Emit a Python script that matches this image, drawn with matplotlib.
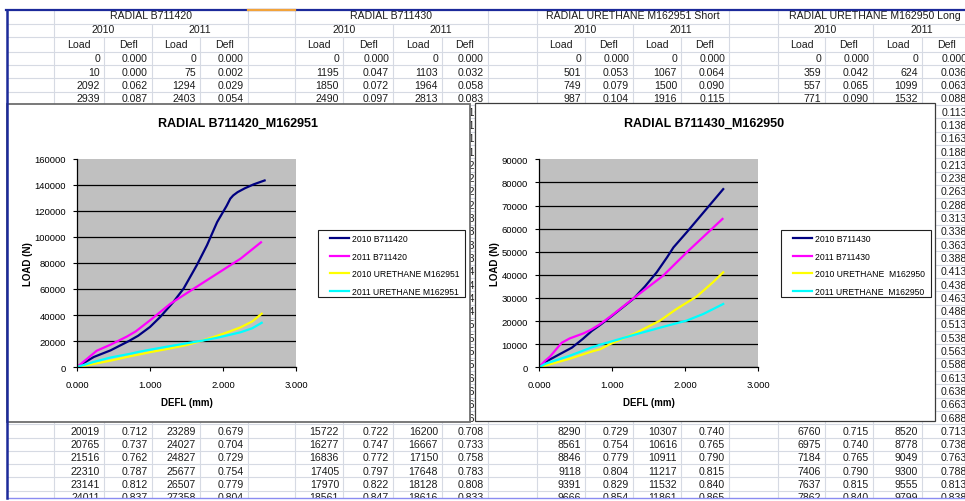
import matplotlib
matplotlib.use("Agg")
import matplotlib.pyplot as plt
from matplotlib.patches import Rectangle
from matplotlib.ticker import FuncFormatter

plt.rcParams['font.family'] = ['Liberation Sans', 'DejaVu Sans']

# ---------------- worksheet contents ----------------
group_titles = ["RADIAL B711420", "RADIAL B711430",
                "RADIAL URETHANE M162951 Short", "RADIAL URETHANE M162950 Long"]
year_labels = ["2010", "2011"]
field_labels = ["Load", "Defl"]

# rows 0-3: [Load 2010, Defl 2010, Load 2011, Defl 2011]
b711420_head = [[0, 0.000, 0, 0.000], [10, 0.000, 75, 0.002],
                [2092, 0.062, 1294, 0.029], [2939, 0.087, 2403, 0.054]]
b711430_head = [[0, 0.000, 0, 0.000], [1195, 0.047, 1103, 0.032],
                [1850, 0.072, 1964, 0.058], [2490, 0.097, 2813, 0.083]]
m162951_head = [[0, 0.000, 0, 0.000], [501, 0.053, 1067, 0.064],
                [749, 0.079, 1500, 0.090], [987, 0.104, 1916, 0.115]]
m162950_head = [[0, 0.000, 0, 0.000], [359, 0.042, 624, 0.036],
                [557, 0.065, 1099, 0.063], [771, 0.090, 1532, 0.088]]

# rows 28-33
b711420_tail = [[20019, 0.712, 23289, 0.679], [20765, 0.737, 24027, 0.704],
                [21516, 0.762, 24827, 0.729], [22310, 0.787, 25677, 0.754],
                [23141, 0.812, 26507, 0.779], [24011, 0.837, 27358, 0.804]]
b711430_tail = [[15722, 0.722, 16200, 0.708], [16277, 0.747, 16667, 0.733],
                [16836, 0.772, 17150, 0.758], [17405, 0.797, 17648, 0.783],
                [17970, 0.822, 18128, 0.808], [18561, 0.847, 18616, 0.833]]
m162951_tail = [[8290, 0.729, 10307, 0.740], [8561, 0.754, 10616, 0.765],
                [8846, 0.779, 10911, 0.790], [9118, 0.804, 11217, 0.815],
                [9391, 0.829, 11532, 0.840], [9666, 0.854, 11861, 0.865]]
m162950_tail = [[6760, 0.715, 8520, 0.713], [6975, 0.740, 8778, 0.738],
                [7184, 0.765, 9049, 0.763], [7406, 0.790, 9300, 0.788],
                [7637, 0.815, 9555, 0.813], [7862, 0.840, 9799, 0.838]]

# rows 4-27 of the 2011 Defl columns that peek out beside the charts
b711430_defl_2011_mid = [0.108, 0.133, 0.158, 0.183, 0.208, 0.233, 0.258, 0.283,
                         0.308, 0.333, 0.358, 0.383, 0.408, 0.433, 0.458, 0.483,
                         0.508, 0.533, 0.558, 0.583, 0.608, 0.633, 0.658, 0.683]
m162950_defl_2011_mid = [0.113, 0.138, 0.163, 0.188, 0.213, 0.238, 0.263, 0.288,
                         0.313, 0.338, 0.363, 0.388, 0.413, 0.438, 0.463, 0.488,
                         0.513, 0.538, 0.563, 0.588, 0.613, 0.638, 0.663, 0.688]

# ---------------- chart series ----------------
# chart 1: RADIAL B711420_M162951
defl_2010_b711420 = [0.000, 0.000, 0.062, 0.087, 0.23, 0.46, 0.712, 0.837, 1.00, 1.14,
                     1.32, 1.46, 1.64, 1.78, 1.92, 2.05, 2.10, 2.14, 2.20, 2.30, 2.42, 2.57]
load_2010_b711420 = [0, 10, 2092, 2939, 7700, 12800, 20019, 24011, 30800, 38500,
                     50000, 60300, 78200, 93600, 111500, 124000, 129500, 132000, 134500,
                     137500, 140500, 143500]
defl_2011_b711420 = [0.000, 0.002, 0.029, 0.054, 0.14, 0.27, 0.46, 0.679, 0.804, 1.00,
                     1.28, 1.60, 1.92, 2.24, 2.52]
load_2011_b711420 = [0, 75, 1294, 2403, 6400, 12500, 17200, 23289, 27358, 35900,
                     48700, 60300, 71800, 83300, 95900]
defl_2010_m162951 = [0.000, 0.053, 0.079, 0.104, 0.46, 0.729, 0.854, 1.00, 1.25, 1.51,
                     1.71, 1.92, 2.10, 2.24, 2.40, 2.53]
load_2010_m162951 = [0, 501, 749, 987, 4900, 8290, 9666, 11400, 14000, 17000,
                     20200, 24000, 27500, 30500, 35000, 41000]
defl_2011_m162951 = [0.000, 0.064, 0.090, 0.115, 0.23, 0.46, 0.740, 0.865, 1.00, 1.30,
                     1.60, 1.71, 1.92, 2.24, 2.40, 2.53]
load_2011_m162951 = [0, 1067, 1500, 1916, 3900, 7300, 10307, 11861, 13300, 16300,
                     19200, 20200, 22500, 26700, 29800, 34000]

# chart 2: RADIAL B711430_M162950
defl_2010_b711430 = [0.000, 0.047, 0.072, 0.097, 0.29, 0.45, 0.60, 0.722, 0.847, 1.00,
                     1.29, 1.45, 1.61, 1.75, 1.84, 2.02, 2.25, 2.52]
load_2010_b711430 = [0, 1195, 1850, 2490, 5800, 8500, 12300, 15722, 18561, 22300,
                     29600, 35000, 41100, 47500, 51900, 58400, 67000, 77100]
defl_2011_b711430 = [0.000, 0.032, 0.058, 0.083, 0.15, 0.31, 0.42, 0.61, 0.708, 0.833,
                     0.99, 1.34, 1.70, 2.02, 2.29, 2.51]
load_2011_b711430 = [0, 1103, 1964, 2813, 4600, 10600, 12500, 14700, 16200, 18616,
                     22300, 31000, 39700, 49700, 57700, 64200]
defl_2010_m162950 = [0.000, 0.042, 0.065, 0.090, 0.42, 0.715, 0.840, 0.97, 1.34, 1.655,
                     1.88, 2.16, 2.38, 2.52]
load_2010_m162950 = [0, 359, 557, 771, 3700, 6760, 7862, 10000, 15100, 20200,
                     25200, 30700, 36800, 41100]
defl_2011_m162950 = [0.000, 0.036, 0.063, 0.088, 0.42, 0.713, 0.838, 0.97, 1.34, 1.79,
                     2.02, 2.25, 2.52]
load_2011_m162950 = [0, 624, 1099, 1532, 5000, 8520, 9799, 11000, 14400, 18300,
                     20200, 23100, 27400]

# ---------------- figure / worksheet layer (pixel coordinates) ----------------
W, H = 965, 502
fig = plt.figure(figsize=(W / 100, H / 100), dpi=100)
sheet = fig.add_axes([0, 0, 1, 1])
sheet.set_xlim(0, W)
sheet.set_ylim(H, 0)
sheet.set_axis_off()

col_edges = [7, 54, 104, 152, 200, 248, 295, 343, 393, 442, 488, 537, 585, 633,
             681, 729, 778, 825, 873, 922, 971]
group_first_col = [1, 6, 11, 16]
row_h = 13.3
row0_y = 59.5


def row_y(k):
    return row0_y + row_h * k


grid_c = '#d6dae3'
text_c = '#1c1c1c'
fs = 7.6

# horizontal cell borders
h_lines = [24.5, 38.0] + [row_y(k) - row_h / 2 for k in range(0, 36)]
sheet.hlines(h_lines, 7, W, color=grid_c, lw=0.8, zorder=1)

# vertical cell borders (merged header cells have fewer)
title_vx = [54, 248, 295, 488, 537, 729, 778]
year_vx = [54, 152, 248, 295, 393, 488, 537, 633, 729, 778, 873]
sheet.vlines(title_vx, 10.5, 24.5, color=grid_c, lw=0.8, zorder=1)
sheet.vlines(year_vx, 24.5, 38.0, color=grid_c, lw=0.8, zorder=1)
sheet.vlines(col_edges[1:], 38.0, H, color=grid_c, lw=0.8, zorder=1)

heads = [b711420_head, b711430_head, m162951_head, m162950_head]
tails = [b711420_tail, b711430_tail, m162951_tail, m162950_tail]


def cell_text(col, k, value, is_defl, inset=4):
    s = f"{value:.3f}" if is_defl else f"{value}"
    sheet.text(col_edges[col + 1] - inset, row_y(k), s, ha='right', va='center',
               fontsize=fs, color=text_c, zorder=3)


for gi, title in enumerate(group_titles):
    c0 = group_first_col[gi]
    sheet.text((col_edges[c0] + col_edges[c0 + 4]) / 2, 16.0, title, ha='center',
               va='center', fontsize=fs, color=text_c, zorder=3)
    for yi, yr in enumerate(year_labels):
        sheet.text((col_edges[c0 + 2 * yi] + col_edges[c0 + 2 * yi + 2]) / 2, 30.0, yr,
                   ha='center', va='center', fontsize=fs, color=text_c, zorder=3)
    for fi in range(4):
        sheet.text((col_edges[c0 + fi] + col_edges[c0 + fi + 1]) / 2, 44.5,
                   field_labels[fi % 2], ha='center', va='center', fontsize=fs,
                   color=text_c, zorder=3)
    for k, row in enumerate(heads[gi]):
        for j, v in enumerate(row):
            cell_text(c0 + j, k, v, j % 2 == 1)
    for i, row in enumerate(tails[gi]):
        for j, v in enumerate(row):
            cell_text(c0 + j, 28 + i, v, j % 2 == 1)

for i, v in enumerate(b711430_defl_2011_mid):
    cell_text(group_first_col[1] + 3, 4 + i, v, True, inset=1)
for i, v in enumerate(m162950_defl_2011_mid):
    cell_text(group_first_col[3] + 3, 4 + i, v, True)

# embedded chart frames
sheet.add_patch(Rectangle((7, 105), 463, 318, fc='white', ec='#6e6e6e', lw=1.3, zorder=5))
sheet.add_patch(Rectangle((475, 104), 460, 318, fc='white', ec='#3c3c3c', lw=0.9, zorder=5))

# legend boxes
sheet.add_patch(Rectangle((318, 231), 147, 67, fc='white', ec='#202020', lw=0.8, zorder=6))
sheet.add_patch(Rectangle((781, 231), 150, 67, fc='white', ec='#202020', lw=0.8, zorder=6))

# window edges
sheet.add_patch(Rectangle((0, 499.5), W, 3, fc='white', ec='none', zorder=9))
sheet.plot([7, W], [499, 499], color='#8a8cf2', lw=1.0, zorder=10)
sheet.plot([6, W], [10.5, 10.5], color='#1c2a9a', lw=1.6, zorder=10)
sheet.plot([248, 295], [10.5, 10.5], color='#f2a33a', lw=1.6, zorder=11)
sheet.plot([7, 7], [10.5, 499], color='#1c2a9a', lw=1.8, zorder=10)

# ---------------- charts ----------------
series_colors = ['#000080', '#ff00ff', '#ffff00', '#00ffff']


def px_axes(x0, x1, ytop, ybot):
    return fig.add_axes([x0 / W, (H - ybot) / H, (x1 - x0) / W, (ybot - ytop) / H])


def style_chart(ax, ymax, ystep):
    ax.set_facecolor('#c0c0c0')
    ax.set_xlim(0, 3)
    ax.set_ylim(0, ymax)
    ax.set_xticks([0, 1, 2, 3])
    ax.set_yticks(list(range(0, ymax + 1, ystep)))
    ax.xaxis.set_major_formatter(FuncFormatter(lambda v, p: f"{v:.3f}"))
    ax.yaxis.set_major_formatter(FuncFormatter(lambda v, p: f"{int(round(v))}"))
    ax.yaxis.grid(True, color='black', lw=0.9)
    ax.set_axisbelow(True)
    ax.get_ygridlines()[-1].set_visible(False)
    for s in ('top', 'right'):
        ax.spines[s].set_visible(False)
    for s in ('left', 'bottom'):
        ax.spines[s].set_color('black')
        ax.spines[s].set_linewidth(0.9)
    ax.tick_params(direction='out', length=3, width=0.8, labelsize=6.8,
                   colors='black')
    ax.tick_params(axis='y', pad=5)
    ax.tick_params(axis='x', pad=6)
    ax.set_xlabel('DEFL (mm)', fontsize=7, fontweight='bold', labelpad=6)
    ax.set_ylabel('LOAD (N)', fontsize=7, fontweight='bold', labelpad=1)


def add_legend(ax, x_line, ytop):
    ax.legend(loc='upper left', bbox_to_anchor=(x_line / W, (H - ytop) / H),
              bbox_transform=fig.transFigure, fontsize=6.2, frameon=False,
              handlelength=2.2, handletextpad=0.35, borderpad=0,
              labelspacing=0.98, borderaxespad=0)


ax1 = px_axes(77, 296, 160, 368)
ax1.plot(defl_2010_b711420, load_2010_b711420, color=series_colors[0], lw=1.6, label='2010 B711420')
ax1.plot(defl_2011_b711420, load_2011_b711420, color=series_colors[1], lw=1.6, label='2011 B711420')
ax1.plot(defl_2010_m162951, load_2010_m162951, color=series_colors[2], lw=1.6, label='2010 URETHANE M162951')
ax1.plot(defl_2011_m162951, load_2011_m162951, color=series_colors[3], lw=1.6, label='2011 URETHANE M162951')
style_chart(ax1, 160000, 20000)
add_legend(ax1, 330, 235.5)
fig.text(238.5 / W, (H - 124) / H, 'RADIAL B711420_M162951', ha='center', va='center',
         fontsize=9, fontweight='bold')

ax2 = px_axes(539, 758.3, 160.3, 368.3)
ax2.plot(defl_2010_b711430, load_2010_b711430, color=series_colors[0], lw=1.6, label='2010 B711430')
ax2.plot(defl_2011_b711430, load_2011_b711430, color=series_colors[1], lw=1.6, label='2011 B711430')
ax2.plot(defl_2010_m162950, load_2010_m162950, color=series_colors[2], lw=1.6, label='2010 URETHANE  M162950')
ax2.plot(defl_2011_m162950, load_2011_m162950, color=series_colors[3], lw=1.6, label='2011 URETHANE  M162950')
style_chart(ax2, 90000, 10000)
add_legend(ax2, 793, 235.5)
fig.text(704 / W, (H - 124) / H, 'RADIAL B711430_M162950', ha='center', va='center',
         fontsize=9, fontweight='bold')

fig.savefig('out.png', dpi=100)
